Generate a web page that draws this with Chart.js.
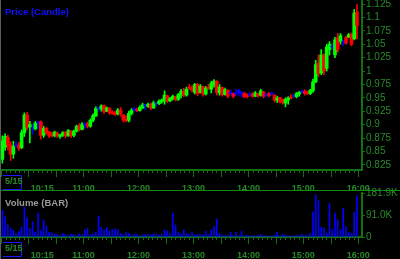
<!DOCTYPE html>
<html>
<head>
<meta charset="utf-8">
<script src="https://cdn.jsdelivr.net/npm/chart.js@4.4.0/dist/chart.umd.min.js"></script>
<style>
    html, body { margin: 0; padding: 0; background: #000; }
    #wrap { position: relative; width: 400px; height: 259px; background: #000; overflow: hidden; }
    #priceChart { position: absolute; left: 0; top: 0; }
    #volumeChart { position: absolute; left: 0; top: 181px; }
    #sep { position: absolute; left: 0; top: 190px; width: 400px; height: 1px; background: #128c12; }
    #edge { position: absolute; left: 0; top: 0; width: 1px; height: 259px; background: #5c5c5c; }
</style>
</head>
<body>
<div id="wrap">
    <div id="sep"></div>
    <canvas id="priceChart" width="400" height="190"></canvas>
    <canvas id="volumeChart" width="400" height="78"></canvas>
    <div id="edge"></div>
</div>
<script>
// 3-minute bars from 9:30 to 16:00
const barStep = 3;
const openP = [
    0.835, 0.858, 0.876, 0.862, 0.845, 0.860, 0.862, 0.857, 0.885, 0.918,
    0.895, 0.893, 0.892, 0.903, 0.905, 0.880, 0.893, 0.886, 0.882, 0.879,
    0.884, 0.878, 0.880, 0.886, 0.879, 0.888, 0.880, 0.888, 0.898, 0.891,
    0.900, 0.901, 0.897, 0.908, 0.916, 0.930, 0.929, 0.935, 0.925, 0.930,
    0.923, 0.922, 0.920, 0.927, 0.918, 0.912, 0.908, 0.921, 0.927, 0.928,
    0.926, 0.931, 0.935, 0.934, 0.938, 0.931, 0.940, 0.939, 0.943, 0.944,
    0.954, 0.944, 0.948, 0.952, 0.947, 0.955, 0.963, 0.955, 0.969, 0.969,
    0.960, 0.975, 0.960, 0.971, 0.957, 0.970, 0.966, 0.975, 0.981, 0.959,
    0.969, 0.956, 0.964, 0.958, 0.958, 0.958, 0.961, 0.958, 0.958, 0.955,
    0.955, 0.957, 0.953, 0.958, 0.955, 0.961, 0.955, 0.957, 0.957, 0.955,
    0.945, 0.950, 0.946, 0.940, 0.946, 0.952, 0.953, 0.952, 0.957, 0.961,
    0.962, 0.960, 0.958, 0.963, 0.980, 1.015, 0.996, 1.030, 1.005, 1.040,
    1.045, 1.030, 1.062, 1.055, 1.053, 1.062, 1.063, 1.068, 1.060, 1.110
];
const highP = [
    0.879, 0.883, 0.880, 0.868, 0.869, 0.868, 0.867, 0.890, 0.922, 0.923,
    0.906, 0.900, 0.906, 0.906, 0.907, 0.897, 0.895, 0.888, 0.886, 0.888,
    0.886, 0.882, 0.887, 0.887, 0.891, 0.889, 0.890, 0.899, 0.902, 0.904,
    0.903, 0.905, 0.911, 0.920, 0.933, 0.933, 0.937, 0.937, 0.933, 0.932,
    0.926, 0.925, 0.930, 0.932, 0.919, 0.917, 0.925, 0.930, 0.932, 0.931,
    0.935, 0.940, 0.938, 0.940, 0.940, 0.944, 0.941, 0.946, 0.948, 0.963,
    0.955, 0.951, 0.955, 0.953, 0.958, 0.966, 0.968, 0.970, 0.975, 0.973,
    0.977, 0.977, 0.975, 0.972, 0.971, 0.975, 0.981, 0.984, 0.982, 0.975,
    0.970, 0.968, 0.965, 0.964, 0.959, 0.966, 0.966, 0.962, 0.960, 0.958,
    0.960, 0.960, 0.962, 0.959, 0.966, 0.962, 0.958, 0.960, 0.960, 0.956,
    0.953, 0.951, 0.948, 0.950, 0.952, 0.956, 0.956, 0.960, 0.962, 0.964,
    0.965, 0.963, 0.966, 0.985, 1.020, 1.030, 1.040, 1.032, 1.050, 1.055,
    1.050, 1.063, 1.070, 1.070, 1.058, 1.065, 1.070, 1.071, 1.115, 1.124
];
const lowP = [
    0.828, 0.852, 0.853, 0.833, 0.837, 0.858, 0.852, 0.855, 0.878, 0.890,
    0.866, 0.882, 0.890, 0.892, 0.873, 0.876, 0.882, 0.876, 0.877, 0.877,
    0.876, 0.874, 0.878, 0.875, 0.878, 0.876, 0.877, 0.886, 0.888, 0.890,
    0.893, 0.894, 0.895, 0.905, 0.915, 0.925, 0.925, 0.921, 0.924, 0.919,
    0.919, 0.917, 0.918, 0.916, 0.905, 0.905, 0.905, 0.918, 0.925, 0.924,
    0.925, 0.930, 0.928, 0.932, 0.928, 0.930, 0.935, 0.937, 0.940, 0.938,
    0.941, 0.943, 0.946, 0.944, 0.945, 0.950, 0.952, 0.953, 0.966, 0.961,
    0.957, 0.954, 0.959, 0.953, 0.955, 0.966, 0.959, 0.970, 0.955, 0.955,
    0.953, 0.955, 0.950, 0.955, 0.950, 0.953, 0.955, 0.951, 0.950, 0.950,
    0.953, 0.951, 0.952, 0.951, 0.953, 0.950, 0.951, 0.952, 0.955, 0.942,
    0.941, 0.940, 0.938, 0.933, 0.938, 0.948, 0.950, 0.950, 0.953, 0.958,
    0.955, 0.956, 0.956, 0.960, 0.978, 0.990, 0.993, 0.993, 1.000, 1.030,
    1.040, 1.025, 1.035, 1.050, 1.047, 1.050, 1.062, 1.047, 1.058, 1.060
];
const closeP = [
    0.870, 0.878, 0.862, 0.845, 0.860, 0.860, 0.856, 0.885, 0.918, 0.895,
    0.900, 0.893, 0.903, 0.903, 0.880, 0.893, 0.885, 0.879, 0.879, 0.886,
    0.879, 0.881, 0.885, 0.879, 0.889, 0.880, 0.888, 0.897, 0.891, 0.901,
    0.900, 0.897, 0.908, 0.917, 0.930, 0.930, 0.935, 0.924, 0.931, 0.922,
    0.921, 0.919, 0.927, 0.920, 0.909, 0.907, 0.921, 0.927, 0.927, 0.926,
    0.932, 0.937, 0.935, 0.938, 0.931, 0.941, 0.940, 0.944, 0.946, 0.955,
    0.944, 0.949, 0.953, 0.947, 0.956, 0.962, 0.955, 0.966, 0.968, 0.964,
    0.975, 0.958, 0.972, 0.957, 0.968, 0.967, 0.977, 0.981, 0.960, 0.970,
    0.956, 0.965, 0.953, 0.958, 0.953, 0.958, 0.961, 0.958, 0.952, 0.952,
    0.955, 0.953, 0.959, 0.954, 0.963, 0.953, 0.955, 0.954, 0.957, 0.946,
    0.950, 0.943, 0.941, 0.947, 0.950, 0.950, 0.953, 0.958, 0.960, 0.961,
    0.958, 0.958, 0.964, 0.980, 1.012, 0.995, 1.030, 1.000, 1.045, 1.050,
    1.045, 1.058, 1.040, 1.066, 1.053, 1.052, 1.068, 1.050, 1.108, 1.085
];
const volume = [
    110000, 83000, 50000, 35000, 28000, 15000, 22000, 40000, 123000, 79000,
    35000, 63000, 20000, 99000, 25000, 71000, 45000, 20000, 18000, 12000,
    10000, 8000, 15000, 10000, 8000, 12000, 10000, 6000, 14000, 10000,
    30000, 35000, 10000, 12000, 20000, 87000, 40000, 30000, 40000, 25000,
    30000, 35000, 30000, 15000, 10000, 20000, 15000, 8000, 12000, 10000,
    6000, 8000, 10000, 12000, 8000, 15000, 10000, 8000, 12000, 30000,
    25000, 15000, 99000, 50000, 20000, 12000, 30000, 15000, 10000, 20000,
    8000, 10000, 12000, 8000, 24000, 10000, 30000, 45000, 75000, 15000,
    8000, 5000, 8000, 20000, 6000, 20000, 5000, 24000, 6000, 8000,
    5000, 6000, 4000, 8000, 10000, 5000, 6000, 4000, 5000, 8000,
    20000, 6000, 10000, 8000, 6000, 4000, 5000, 8000, 5000, 12000,
    5000, 8000, 15000, 104000, 175000, 150000, 40000, 38000, 15000, 138000,
    30000, 99000, 71000, 30000, 119000, 44000, 20000, 15000, 103000, 170000
];

// axis labels
const tickMinutes = [45, 90, 150, 210, 270, 330, 390];
const tickLabels = ['10:15', '11:00', '12:00', '13:00', '14:00', '15:00', '16:00'];
const priceTicks = [0.825, 0.85, 0.875, 0.9, 0.925, 0.95, 0.975, 1, 1.025, 1.05, 1.075, 1.1, 1.125];
const volumeTicks = [0, 90950, 181900];
const volumeTickLabels = ['0', '91.0K', '181.9K'];
const dateLabel = '5/15';

const AXIS = '#127012';
const TEXT = '#2a8a2a';
const FONT = 'Liberation Sans, Arial, sans-serif';

const xMinutes = closeP.map((_, i) => i * barStep + barStep / 2);
const candleColors = closeP.map((c, i) => c > openP[i] ? '#00ff00' : (c < openP[i] ? '#ff0000' : '#0000ff'));

// small and long tick marks under the time axis
const timeTicks = {
    id: 'timeTicks',
    afterDraw(chart) {
        const { ctx, chartArea } = chart;
        const x = chart.scales.x;
        ctx.save();
        ctx.strokeStyle = AXIS;
        ctx.lineWidth = 1;
        for (let m = 0; m <= 390; m += 5) {
            const px = Math.round(x.getPixelForValue(m)) + 0.5;
            const len = m % 30 === 0 ? 7 : 3;
            ctx.beginPath();
            ctx.moveTo(px, chartArea.bottom);
            ctx.lineTo(px, chartArea.bottom + len);
            ctx.stroke();
        }
        // date tag at the left end
        const b = chartArea.bottom;
        ctx.strokeStyle = '#1a1aff';
        ctx.beginPath();
        ctx.moveTo(3, b + 5.5);
        ctx.lineTo(21.5, b + 5.5);
        ctx.lineTo(21.5, b + 19.5);
        ctx.lineTo(3, b + 19.5);
        ctx.stroke();
        ctx.fillStyle = TEXT;
        ctx.font = 'bold 9px ' + FONT;
        ctx.textBaseline = 'middle';
        ctx.textAlign = 'left';
        ctx.fillText(dateLabel, 5, b + 12);
        ctx.restore();
    }
};

const panelTitle = {
    id: 'panelTitle',
    afterDraw(chart, args, opts) {
        const { ctx, chartArea } = chart;
        ctx.save();
        ctx.fillStyle = opts.color;
        ctx.font = 'bold 9.5px ' + FONT;
        ctx.textBaseline = 'middle';
        ctx.textAlign = 'left';
        ctx.fillText(opts.text, 5, chartArea.top + opts.offset);
        ctx.restore();
    }
};

function timeAxis(h) {
    return {
        type: 'linear',
        min: 0,
        max: 394,
        offset: false,
        grid: { display: false, offset: false },
        border: { display: true, color: AXIS, width: 2 },
        afterBuildTicks: s => { s.ticks = tickMinutes.map(v => ({ value: v })); },
        afterFit: s => { s.height = h; s.paddingLeft = 0; s.paddingRight = 0; },
        ticks: {
            color: TEXT,
            font: { family: FONT, size: 9, weight: 'bold' },
            padding: 5,
            maxRotation: 0,
            autoSkip: false,
            callback: v => tickLabels[tickMinutes.indexOf(v)] || ''
        }
    };
}

function valueAxis(min, max, ticks, fmt) {
    return {
        position: 'right',
        min: min,
        max: max,
        afterBuildTicks: s => { s.ticks = ticks.map(v => ({ value: v })); },
        afterFit: s => { s.width = 38; s.paddingTop = 0; s.paddingBottom = 0; },
        grid: { drawOnChartArea: false, drawTicks: true, tickLength: 3, tickColor: AXIS, color: AXIS },
        border: { display: true, color: AXIS, width: 2 },
        ticks: {
            color: TEXT,
            font: { family: FONT, size: 10 },
            padding: 1,
            autoSkip: false,
            callback: fmt
        }
    };
}

new Chart(document.getElementById('priceChart'), {
    type: 'bar',
    data: {
        datasets: [
            {
                label: 'wick',
                data: xMinutes.map((m, i) => ({ x: m, y: [lowP[i], highP[i]] })),
                backgroundColor: candleColors,
                barThickness: 1,
                grouped: false,
                order: 2
            },
            {
                label: 'body',
                data: xMinutes.map((m, i) => ({ x: m, y: [openP[i], closeP[i]] })),
                backgroundColor: candleColors,
                barThickness: 3,
                minBarLength: 1,
                grouped: false,
                order: 1
            }
        ]
    },
    options: {
        responsive: false,
        animation: false,
        layout: { padding: { left: 1, top: 0, right: 0, bottom: 0 } },
        scales: {
            x: timeAxis(20),
            y: valueAxis(0.8153, 1.1325, priceTicks, v => String(+v.toFixed(3)))
        },
        plugins: {
            legend: { display: false },
            tooltip: { enabled: false },
            panelTitle: { text: 'Price (Candle)', color: '#1010ff', offset: 12 }
        }
    },
    plugins: [timeTicks, panelTitle]
});

new Chart(document.getElementById('volumeChart'), {
    type: 'bar',
    data: {
        datasets: [{
            label: 'volume',
            data: xMinutes.map((m, i) => ({ x: m, y: volume[i] })),
            backgroundColor: '#0000ff',
            barThickness: 1,
            grouped: false
        }]
    },
    options: {
        responsive: false,
        animation: false,
        layout: { padding: { left: 1, top: 12, right: 0, bottom: 0 } },
        scales: {
            x: timeAxis(22),
            y: valueAxis(0, 181900, volumeTicks, v => volumeTickLabels[volumeTicks.indexOf(v)])
        },
        plugins: {
            legend: { display: false },
            tooltip: { enabled: false },
            panelTitle: { text: 'Volume (BAR)', color: '#9a9a9a', offset: 10 }
        }
    },
    plugins: [timeTicks, panelTitle]
});
</script>
</body>
</html>
